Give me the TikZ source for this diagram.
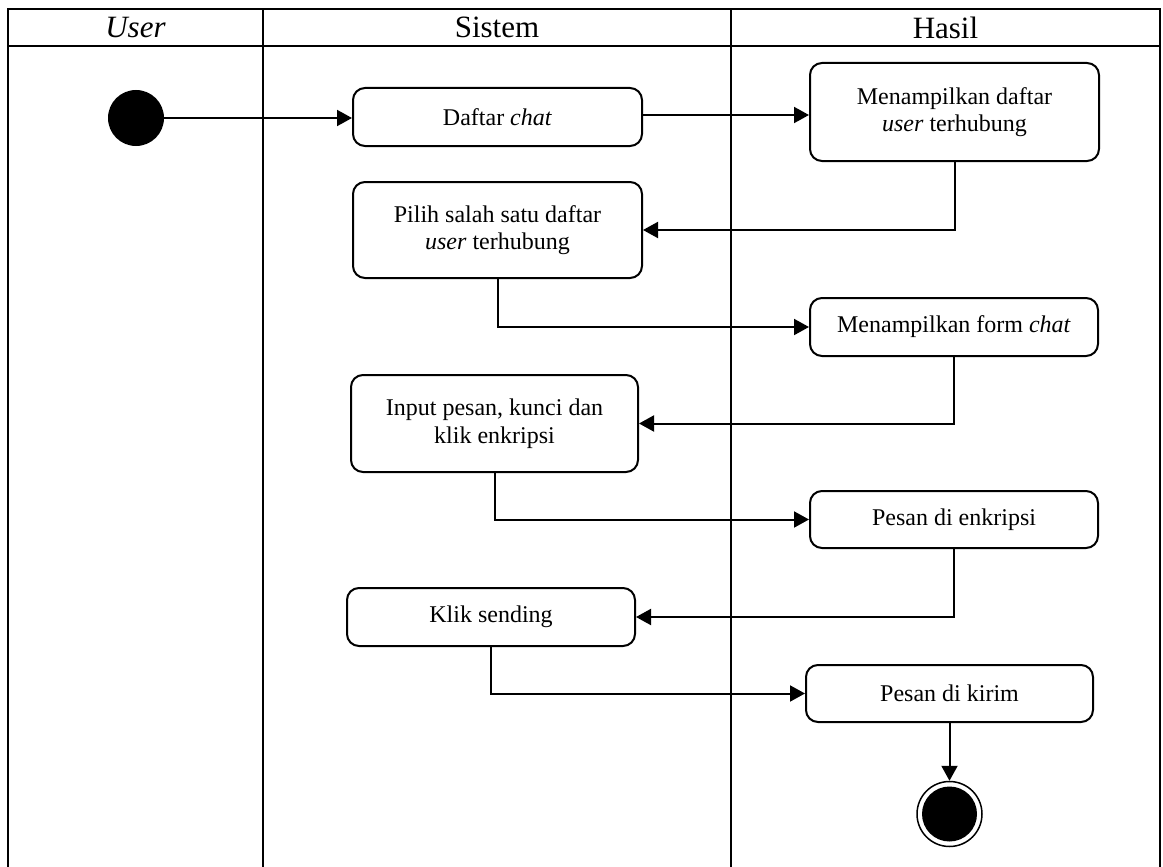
\documentclass[tikz,border=0pt]{standalone}
\usepackage{fontspec}
\setmainfont{Liberation Serif}
\usetikzlibrary{arrows.meta,calc}
\begin{document}
\begin{tikzpicture}[x=1pt,y=-1pt,
  lane/.style={line width=2.2pt},
  act/.style={draw,line width=2pt,rounded corners=12pt,align=center,
    font=\fontsize{24}{27.5}\selectfont,inner sep=0pt},
  flow/.style={line width=2pt,-{Triangle[length=15pt,width=16pt]}},
  hdr/.style={font=\fontsize{31}{34}\selectfont},
]
\useasboundingbox (0,0) rectangle (1163,867);
% swimlane frame
\draw[lane] (8,867) -- (8,9) -- (1160,9) -- (1160,867);
\draw[lane] (8,46) -- (1160,46);
\draw[lane] (263,9) -- (263,867);
\draw[lane] (731,9) -- (731,867);
\node[hdr] (hUser) at (135.5,27.5) {\textit{User}};
\node[hdr] (hSistem) at (497,27.5) {Sistem};
\node[hdr] (hHasil) at (945.5,27.5) {Hasil};
% activities
\node[circle,fill=black,inner sep=0pt,minimum size=56pt] (start) at (136,118) {};
\node[act,minimum width=289pt,minimum height=58pt] (daftar) at (497.5,117) {Daftar \textit{chat}};
\node[act,minimum width=289pt,minimum height=98pt] (tampil) at (954.5,112) {Menampilkan daftar\\\textit{user} terhubung};
\node[act,minimum width=289pt,minimum height=96pt] (pilih) at (497.5,230) {Pilih salah satu daftar\\\textit{user} terhubung};
\node[act,minimum width=288pt,minimum height=58pt] (form) at (954,327) {Menampilkan form \textit{chat}};
\node[act,minimum width=287pt,minimum height=97pt] (input) at (494.5,423.5) {Input pesan, kunci dan\\klik enkripsi};
\node[act,minimum width=288pt,minimum height=57pt] (enkrip) at (954,519.5) {Pesan di enkripsi};
\node[act,minimum width=288pt,minimum height=58pt] (klik) at (491,617) {Klik sending};
\node[act,minimum width=287pt,minimum height=57pt] (kirim) at (949.5,693.5) {Pesan di kirim};
\node[circle,draw,line width=1.5pt,inner sep=0pt,minimum size=65pt] (end) at (949.5,814) {};
\fill (end.center) circle (27.5pt);
% control flow
\draw[flow] (start.east) -- (start.east -| daftar.west);
\draw[flow] (daftar.east |- 0,115) -- (tampil.west |- 0,115);
\draw[flow] (tampil.south) |- (pilih.east);
\draw[flow] (pilih.south) |- (form.west);
\draw[flow] (form.south) |- (input.east);
\draw[flow] (input.south) |- (enkrip.west);
\draw[flow] (enkrip.south) |- (klik.east);
\draw[flow] (klik.south) |- (kirim.west);
\draw[flow] (kirim.south) -- (end.north);
\end{tikzpicture}
\end{document}
